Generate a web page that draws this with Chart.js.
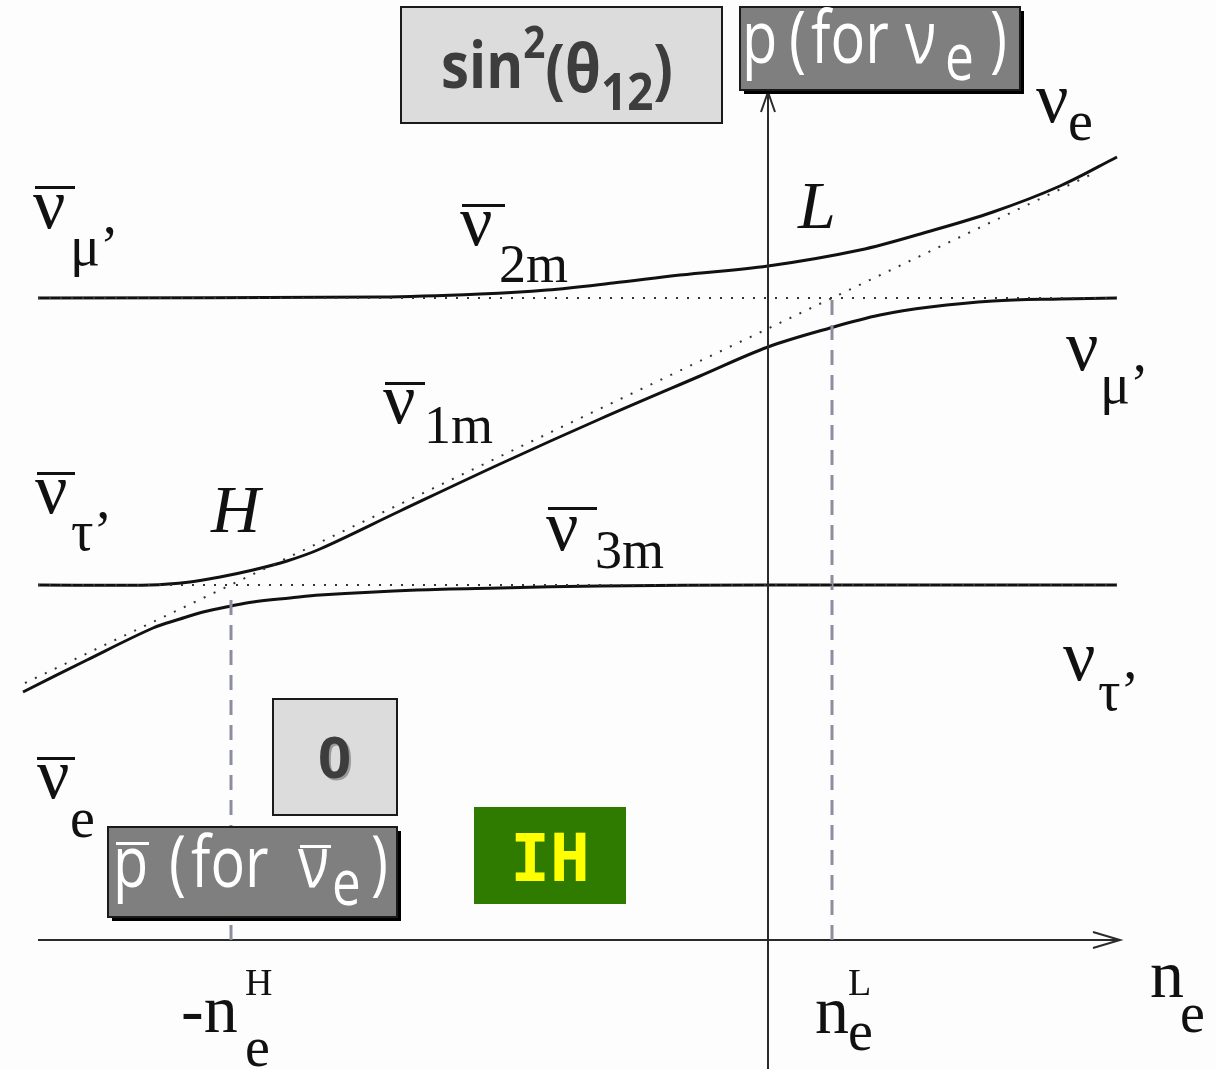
<!DOCTYPE html>
<html>
<head>
<meta charset="utf-8">
<script src="https://cdn.jsdelivr.net/npm/chart.js@4.4.0/dist/chart.umd.min.js"></script>
<style>
  html, body { margin: 0; padding: 0; background: #fdfdfd; }
  #wrap { width: 1216px; height: 1069px; }
</style>
</head>
<body>
<div id="wrap"><canvas id="levels" width="1216" height="1069"></canvas></div>
<script>
// x = n_e (0 on the vertical axis), y = level energy (0 on the n_e axis)

// adiabatic levels
const nu2mX = [-730, -388, -288, -221, -155, -88, 0, 92, 159, 225, 292, 349];
const nu2mY = [642, 643, 646, 650, 657, 665, 674, 690, 708, 728, 754, 783];

const nu1mX = [-730, -618, -578, -548, -515, -481, -448, -368, -268, -168, -68, 0, 62, 112, 162, 225, 292, 349];
const nu1mY = [355, 355, 358, 363, 370, 379, 391, 429, 476, 521, 564, 593, 612, 625, 633, 639, 641, 642];

const nu3mX = [-745, -681, -615, -588, -565, -537, -515, -478, -448, -351, -268, -168, 0, 349];
const nu3mY = [248, 280, 312, 321, 328, 334, 338, 342, 345, 350, 352, 354, 355, 355];

// flavour levels (dotted)
const muLevelX = [-730, 349];
const muLevelY = [642, 642];
const tauLevelX = [-730, 349];
const tauLevelY = [355, 355];
const eLevelX = [-743, 322];
const eLevelY = [257, 765];

// resonance densities
const resX = [-537, 64];        // -n_e^H, n_e^L
const resTopY = [350, 640];

// axes
const neAxisX = [-730, 352];
const pAxisY = [-129, 848];

const pts = (xs, ys) => xs.map((x, i) => ({x: x, y: ys[i]}));

const solid = (xs, ys) => ({
  data: pts(xs, ys), showLine: true, pointRadius: 0, borderColor: '#111',
  borderWidth: 3, tension: 0.35, clip: false
});
const dotted = (xs, ys) => ({
  data: pts(xs, ys), showLine: true, pointRadius: 0, borderColor: '#333',
  borderWidth: 2, borderDash: [2, 9], clip: false
});
const dashed = (x, top) => ({
  data: [{x: x, y: 0}, {x: x, y: top}], showLine: true, pointRadius: 0,
  borderColor: '#8d8da2', borderWidth: 3, borderDash: [15, 10], clip: false
});
const axisLine = (data) => ({
  data: data, showLine: true, pointRadius: 0, borderColor: '#2a2a2a', borderWidth: 2, clip: false
});

const datasets = [
  dotted(muLevelX, muLevelY),
  dotted(tauLevelX, tauLevelY),
  dotted(eLevelX, eLevelY),
  dashed(resX[0], resTopY[0]),
  dashed(resX[1], resTopY[1]),
  axisLine(pts(neAxisX, [0, 0])),
  axisLine(pts([0, 0], pAxisY)),
  solid(nu2mX, nu2mY),
  solid(nu1mX, nu1mY),
  solid(nu3mX, nu3mY)
];

function serif(ctx, txt, x, y, size, italic) {
  ctx.font = (italic ? 'italic ' : '') + size + 'px "Liberation Serif"';
  ctx.fillText(txt, x, y);
}
function sans(ctx, txt, x, y, size, weight, sx) {
  ctx.save();
  ctx.translate(x, y);
  ctx.scale(sx, 1);
  ctx.font = weight + ' ' + size + 'px "Open Sans"';
  ctx.fillText(txt, 0, 0);
  ctx.restore();
}
// runs of [text, size, baseline] set one after another, squeezed to fit a width
function sansRuns(ctx, runs, x0, width, weight) {
  let total = 0;
  runs.forEach(r => {
    ctx.font = weight + ' ' + r[1] + 'px "Open Sans"';
    total += ctx.measureText(r[0]).width;
  });
  const sx = width / total;
  let x = x0;
  runs.forEach(r => {
    ctx.font = weight + ' ' + r[1] + 'px "Open Sans"';
    const w = ctx.measureText(r[0]).width;
    sans(ctx, r[0], x, r[2], r[1], weight, sx);
    x += w * sx;
  });
}
function bar(ctx, x1, x2, y) { ctx.fillRect(x1, y, x2 - x1, 3); }

function box(ctx, x, y, w, h, fill, shadow) {
  if (shadow) {
    ctx.fillStyle = '#000';
    ctx.fillRect(x + 4, y + 4, w, h);
  }
  ctx.fillStyle = fill;
  ctx.fillRect(x, y, w, h);
  ctx.strokeStyle = '#1a1a1a';
  ctx.lineWidth = 2;
  ctx.strokeRect(x, y, w, h);
}

const background = {
  id: 'background',
  beforeDraw(chart) {
    const ctx = chart.ctx;
    ctx.save();
    ctx.fillStyle = '#fdfdfd';
    ctx.fillRect(0, 0, chart.width, chart.height);
    ctx.restore();
  }
};

const annotations = {
  id: 'annotations',
  afterDatasetsDraw(chart) {
    const ctx = chart.ctx;
    const xs = chart.scales.x, ys = chart.scales.y;
    ctx.save();

    // arrow heads on both axes
    ctx.strokeStyle = '#2a2a2a';
    ctx.lineWidth = 2;
    const tipX = xs.getPixelForValue(neAxisX[1]), axY = ys.getPixelForValue(0);
    ctx.beginPath();
    ctx.moveTo(tipX - 27, axY - 8); ctx.lineTo(tipX, axY); ctx.lineTo(tipX - 27, axY + 8);
    ctx.stroke();
    const axX = xs.getPixelForValue(0), tipY = ys.getPixelForValue(pAxisY[1]);
    ctx.beginPath();
    ctx.moveTo(axX - 7, tipY + 20); ctx.lineTo(axX, tipY); ctx.lineTo(axX + 7, tipY + 20);
    ctx.stroke();

    // level labels
    ctx.fillStyle = '#111';
    ctx.textBaseline = 'alphabetic';
    // left side
    serif(ctx, 'ν', 33, 228, 72); bar(ctx, 35, 75, 186); serif(ctx, 'μ’', 70, 265, 56);
    serif(ctx, 'ν', 35, 513, 72); bar(ctx, 37, 75, 472); serif(ctx, 'τ’', 71, 550, 56);
    serif(ctx, 'ν', 37, 798, 72); bar(ctx, 37, 75, 757); serif(ctx, 'e', 70, 837, 56);
    // along the curves
    serif(ctx, 'ν', 460, 245, 72); bar(ctx, 462, 505, 204); serif(ctx, '2m', 499, 282, 54);
    serif(ctx, 'ν', 383, 423, 72); bar(ctx, 385, 425, 382); serif(ctx, '1m', 424, 443, 54);
    serif(ctx, 'ν', 546, 550, 72); bar(ctx, 548, 597, 507); serif(ctx, '3m', 595, 568, 54);
    serif(ctx, 'L', 798, 228, 68, true);
    serif(ctx, 'H', 211, 532, 68, true);
    // right side
    serif(ctx, 'ν', 1036, 122, 72); serif(ctx, 'e', 1068, 140, 56);
    serif(ctx, 'ν', 1066, 370, 72); serif(ctx, 'μ’', 1100, 403, 56);
    serif(ctx, 'ν', 1063, 680, 72); serif(ctx, 'τ’', 1098, 710, 56);
    // axis labels
    serif(ctx, '-n', 181, 1032, 68); serif(ctx, 'H', 245, 995, 38); serif(ctx, 'e', 245, 1066, 56);
    serif(ctx, 'n', 815, 1033, 68); serif(ctx, 'L', 848, 995, 38); serif(ctx, 'e', 848, 1050, 56);
    serif(ctx, 'n', 1150, 997, 68); serif(ctx, 'e', 1180, 1032, 56);

    // sin^2(theta_12) box
    box(ctx, 401, 7, 321, 116, '#dcdcdc', false);
    ctx.fillStyle = '#3d3d3d';
    sansRuns(ctx, [['sin', 64, 88], ['2', 44, 58], ['(θ', 66, 92], ['12', 52, 110], [')', 66, 92]],
             441, 232, 'bold');

    // p (for nu_e) box
    box(ctx, 740, 7, 280, 83, '#7f7f7f', true);
    ctx.fillStyle = '#fff';
    sans(ctx, 'p', 742, 63, 74, 'normal', 0.78);
    sans(ctx, '(', 789, 63, 74, 'normal', 0.78);
    sans(ctx, 'for', 811, 63, 74, 'normal', 0.78);
    sans(ctx, 'ν', 905, 63, 74, 'normal', 0.78);
    sans(ctx, 'e', 945, 80, 66, 'normal', 0.78);
    sans(ctx, ')', 990, 63, 74, 'normal', 0.78);

    // zero box
    box(ctx, 273, 699, 124, 116, '#dcdcdc', false);
    ctx.fillStyle = '#9a9a9a';
    sans(ctx, '0', 320, 780, 58, 'bold', 1);
    ctx.fillStyle = '#3d3d3d';
    sans(ctx, '0', 318, 778, 58, 'bold', 1);

    // p-bar (for nu-bar_e) box
    box(ctx, 108, 827, 289, 90, '#7f7f7f', true);
    ctx.fillStyle = '#fff';
    sans(ctx, 'p', 113, 887, 72, 'normal', 0.8);
    bar(ctx, 116, 149, 842);
    sans(ctx, '(', 169, 887, 72, 'normal', 0.8);
    sans(ctx, 'for', 191, 887, 72, 'normal', 0.8);
    sans(ctx, 'ν', 298, 887, 72, 'normal', 0.8);
    bar(ctx, 300, 331, 845);
    sans(ctx, 'e', 332, 905, 64, 'normal', 0.8);
    sans(ctx, ')', 371, 887, 72, 'normal', 0.8);

    // IH tag
    ctx.fillStyle = '#2e7b00';
    ctx.fillRect(474, 807, 152, 97);
    ctx.fillStyle = '#ffff00';
    ctx.font = 'bold 66px "DejaVu Sans Mono"';
    ctx.textAlign = 'center';
    ctx.fillText('IH', 550, 881);

    ctx.restore();
  }
};

new Chart(document.getElementById('levels'), {
  type: 'scatter',
  data: { datasets: datasets },
  options: {
    responsive: false,
    devicePixelRatio: 1,
    animation: false,
    layout: { padding: 0 },
    plugins: { legend: { display: false }, tooltip: { enabled: false } },
    scales: {
      x: { type: 'linear', min: -768, max: 448, display: false },
      y: { type: 'linear', min: -129, max: 940, display: false }
    }
  },
  plugins: [background, annotations]
});
</script>
</body>
</html>
